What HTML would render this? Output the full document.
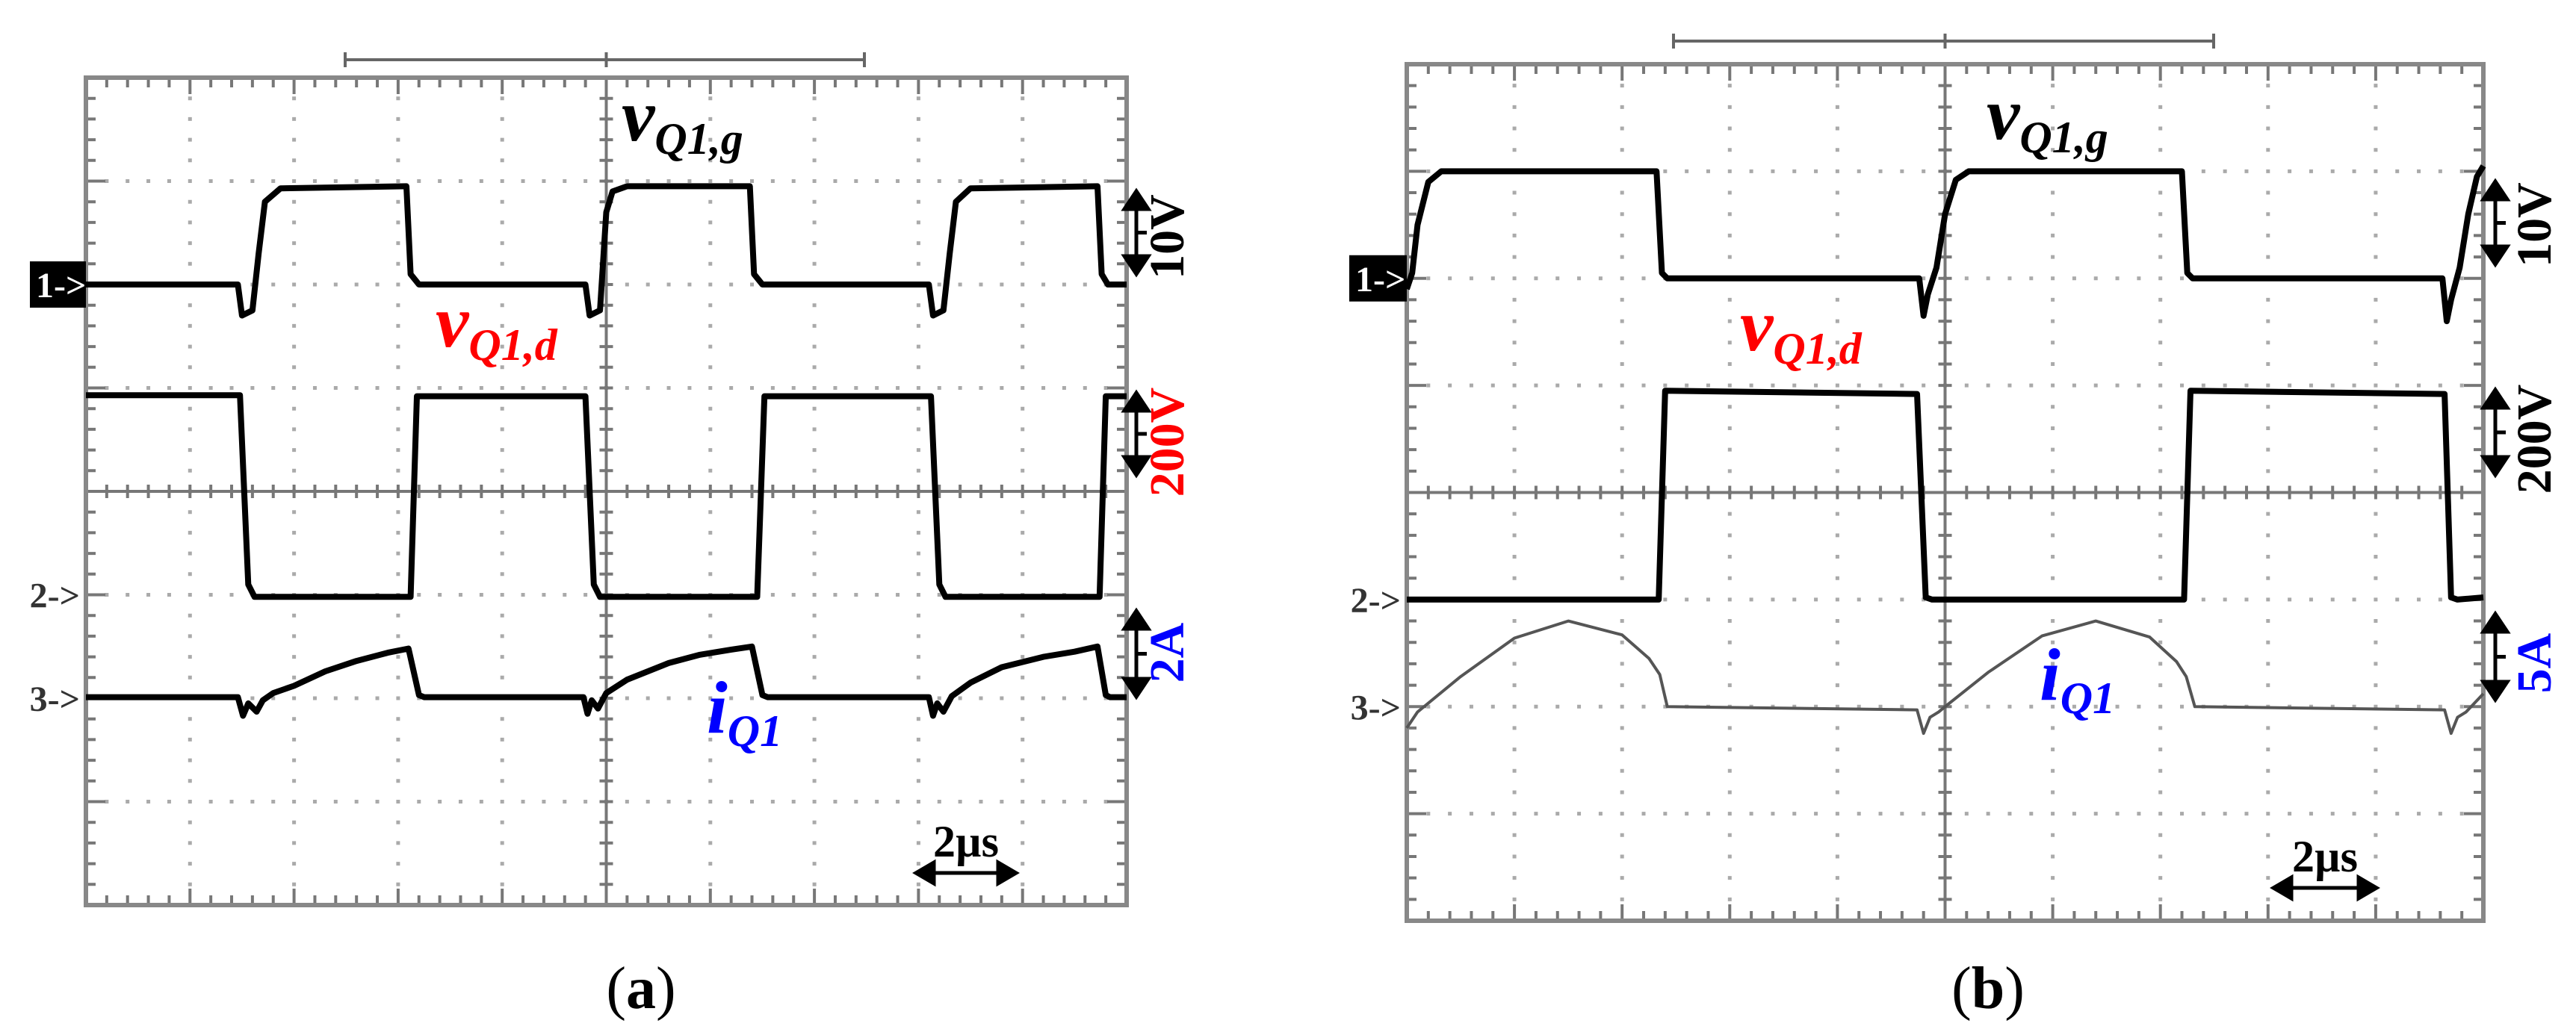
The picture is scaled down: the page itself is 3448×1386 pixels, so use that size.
<!DOCTYPE html>
<html><head><meta charset="utf-8">
<style>
html,body{margin:0;padding:0;background:#fff;}
svg{display:block;}
text{font-family:"Liberation Serif",serif;font-weight:bold;}
</style></head>
<body>
<svg id="fig" width="3448" height="1386" viewBox="0 0 3448 1386" xmlns="http://www.w3.org/2000/svg">
<g id="panelA"></g>
<g id="panelB"></g>
</svg>
<script>
// ---- Panel (a) data: time in divisions (0..10), level in divisions from top (0..8)
const gateA_t = [0,1.46,1.5,1.6,1.66,1.72,1.87,3.08,3.12,3.2,4.8,4.84,4.94,5.0,5.06,5.2,6.38,6.42,6.5,8.1,8.14,8.24,8.3,8.36,8.5,9.72,9.76,9.82,10];
const gateA_v = [2,2,2.3,2.25,1.7,1.2,1.07,1.05,1.9,2.0,2.0,2.3,2.25,1.3,1.1,1.05,1.05,1.9,2.0,2.0,2.3,2.25,1.7,1.2,1.07,1.05,1.9,2.0,2.0];
const drainA_t = [0,1.48,1.56,1.62,3.12,3.18,4.8,4.88,4.94,6.45,6.52,8.12,8.2,8.26,9.74,9.8,10];
const drainA_v = [3.07,3.07,4.9,5.02,5.02,3.08,3.08,4.9,5.02,5.02,3.08,3.08,4.9,5.02,5.02,3.08,3.08];
const curA_t = [0,1.46,1.51,1.56,1.64,1.7,1.8,2.0,2.3,2.6,2.9,3.1,3.2,3.25,4.78,4.82,4.86,4.92,5.0,5.2,5.6,5.9,6.2,6.4,6.5,6.55,8.1,8.14,8.18,8.24,8.32,8.5,8.8,9.2,9.5,9.72,9.8,9.84,10];
const curA_v = [5.99,5.99,6.17,6.05,6.13,6.02,5.95,5.88,5.74,5.64,5.56,5.52,5.97,5.99,5.99,6.15,6.02,6.1,5.95,5.82,5.66,5.58,5.53,5.5,5.97,5.99,5.99,6.17,6.05,6.13,5.98,5.85,5.7,5.6,5.55,5.5,5.97,5.99,5.99];
// ---- Panel (b) data
const gateB_t = [0,0.05,0.1,0.2,0.32,2.32,2.37,2.42,4.76,4.8,4.84,4.92,5.0,5.1,5.22,7.2,7.25,7.3,9.62,9.66,9.7,9.78,9.86,9.94,10];
const gateB_v = [2.1,1.95,1.5,1.1,1.0,1.0,1.95,2.0,2.0,2.35,2.15,1.9,1.4,1.08,1.0,1.0,1.95,2.0,2.0,2.4,2.2,1.9,1.4,1.05,0.95];
const drainB_t = [0,2.34,2.4,4.74,4.82,4.88,7.22,7.28,9.64,9.7,9.76,10];
const drainB_v = [5.0,5.0,3.05,3.08,4.98,5.0,5.0,3.05,3.08,4.98,5.0,4.98];
const curB_t = [0,0.1,0.5,1.0,1.5,2.0,2.25,2.35,2.42,4.74,4.8,4.86,4.94,5.0,5.4,5.9,6.4,6.9,7.15,7.24,7.32,9.64,9.7,9.76,9.84,10];
const curB_v = [6.2,6.05,5.72,5.36,5.2,5.33,5.55,5.7,6.0,6.03,6.25,6.1,6.05,6.0,5.68,5.34,5.2,5.35,5.58,5.72,6.0,6.03,6.25,6.1,6.05,5.88];

const NS = "http://www.w3.org/2000/svg";
function mk(tag, attrs, parent){
  const e = document.createElementNS(NS, tag);
  for (const k in attrs) e.setAttribute(k, attrs[k]);
  if (parent) parent.appendChild(e);
  return e;
}
function vArrow(g, x, a0, a1){
  const h = 24, w = 16;
  return mk('path', {d:`M${x},${a0+h}V${a1-h}M${x},${(a0+a1)/2}h14 M${x},${a0}L${x-w},${a0+h}L${x+w},${a0+h}Z M${x},${a1}L${x-w},${a1-h}L${x+w},${a1-h}Z`, stroke:'#000','stroke-width':5, fill:'#000'}, g);
}
function hArrow(g, y, a0, a1){
  const h = 24, w = 14;
  return mk('path', {d:`M${a0+h},${y}H${a1-h} M${a0},${y}L${a0+h},${y-w}L${a0+h},${y+w}Z M${a1},${y}L${a1-h},${y-w}L${a1-h},${y+w}Z`, stroke:'#000','stroke-width':5, fill:'#000'}, g);
}

function buildPanel(g, P){
  const xs = t => P.x0 + t*(P.x1-P.x0)/10;
  const ys = v => P.y0 + v*(P.y1-P.y0)/8;
  const grid = mk('g', {}, g);
  
  
  let dots = '';
  for (let i=1;i<10;i++){ if(i===5) continue;
    for (let k=1;k<40;k++){ dots += `M${xs(i)-2.5},${ys(k*0.2)}h5`; } }
  for (let j=1;j<8;j++){ if(j===4) continue;
    for (let k=1;k<50;k++){ dots += `M${xs(k*0.2)-2.5},${ys(j)}h5`; } }
  mk('path', {d:dots, stroke:'#aaa', 'stroke-width':5, fill:'none'}, grid);
  let tk = '';
  for (let k=1;k<50;k++){ const x=xs(k*0.2); const L=(k%5===0)?22:13;
    tk += `M${x},${P.y0}v${L}M${x},${P.y1}v${-L}M${x},${ys(4)-9}v18`; }
  for (let k=1;k<40;k++){ const y=ys(k*0.2); const L=(k%5===0)?26:13;
    tk += `M${P.x0},${y}h${L}M${P.x1},${y}h${-L}M${xs(5)-9},${y}h18`; }
  tk += `M${P.x0},${ys(4)}H${P.x1}M${xs(5)},${P.y0}V${P.y1}`;
  mk('path', {d:tk, stroke:'#777', 'stroke-width':4, fill:'none'}, grid);
  const border = mk('rect', {x:P.x0, y:P.y0, width:P.x1-P.x0, height:P.y1-P.y0, fill:'none', stroke:'#888', 'stroke-width':6}, g);
  
  
  const br = mk('path', {d:`M${P.bx0},${P.by}H${P.bx1}M${P.bx0},${P.by-10}v20M${P.bx1},${P.by-10}v20M${(P.x0+P.x1)/2},${P.by-10}v20`, stroke:'#666','stroke-width':4, fill:'none'}, g);
  
  
  P.traces.forEach(tr => {
    let d = '';
    tr.t.forEach((t,i)=>{ d += (i?'L':'M') + xs(t).toFixed(1) + ',' + ys(tr.v[i]).toFixed(1); });
    const p = mk('path', {d:d, stroke:tr.color, 'stroke-width':tr.w, fill:'none', 'stroke-linejoin':'round'}, g);
    
    
  });
  const m1 = mk('rect', {x:P.boxX, y:ys(2)-31, width:P.x0-P.boxX, height:62, fill:'#000'}, g);
  
  
  const t1 = mk('text', {x:P.boxX+8, y:ys(2)+17, fill:'#fff', 'font-size':48, 'font-family':'Liberation Sans, sans-serif'}, g);
  t1.textContent = '1->';
  
  
  [['2->',5,'ch2-marker'],['3->',6,'ch3-marker']].forEach(m=>{
    const t = mk('text', {x:P.x0-8, y:ys(m[1])+17, fill:'#333', 'font-size':48, 'text-anchor':'end', 'font-family':'Liberation Sans, sans-serif'}, g);
    t.textContent = m[0];
    
    
  });
  P.scales.forEach(s=>{
    const a = vArrow(g, P.ax, s.a0, s.a1);
    
    
    const cy = (s.y0+s.y1)/2;
    const t = mk('text', {x:0, y:22, fill:s.color, 'font-size':66, 'text-anchor':'middle', transform:`translate(${P.lx},${cy}) rotate(-90)`}, g);
    t.textContent = s.label;
    
    
  });
  P.labels.forEach(l=>{
    const t = mk('text', {x:l.x, y:l.y, fill:l.color, 'font-style':'italic', 'font-size':100}, g);
    
    
    const m = mk('tspan', {}, t); m.textContent = l.main;
    const s = mk('tspan', {'font-size':60, dy:18}, t); s.textContent = l.sub;
  });
  const ta = hArrow(g, P.ts.y, P.ts.x0, P.ts.x1);
  
  
  const tt = mk('text', {x:(P.ts.x0+P.ts.x1)/2, y:P.ts.y-22, 'font-size':60, 'text-anchor':'middle', fill:'#000'}, g);
  tt.textContent = '2µs';
  
  
  const cap = mk('text', {x:P.capX, y:1350, 'font-size':80, 'text-anchor':'middle', fill:'#000'}, g);
  
  
  mk('tspan', {'font-weight':'normal'}, cap).textContent = '(';
  mk('tspan', {'font-weight':'bold'}, cap).textContent = P.cap;
  mk('tspan', {'font-weight':'normal'}, cap).textContent = ')';
}

buildPanel(document.getElementById('panelA'), {
  x0:115, x1:1508, y0:104, y1:1212, bx0:462, bx1:1157, by:80, boxX:40, ax:1521, lx:1562, capX:858, cap:'a',
  traces:[
    {t:gateA_t, v:gateA_v, color:'#000', w:8, name:'gate-voltage-trace'},
    {t:drainA_t, v:drainA_v, color:'#000', w:8, name:'drain-voltage-trace'},
    {t:curA_t, v:curA_v, color:'#000', w:8, name:'current-trace'}],
  scales:[
    {a0:256,a1:367,y0:270,y1:364,label:'10V',color:'#000',name:'ch1-scale'},
    {a0:526,a1:636,y0:528,y1:656,label:'200V',color:'#f00',name:'ch2-scale'},
    {a0:818,a1:933,y0:834,y1:914,label:'2A',color:'#00f',name:'ch3-scale'}],
  labels:[
    {x:832,y:188,main:'v',sub:'Q1,g',color:'#000',name:'gate-voltage-label'},
    {x:583,y:464,main:'v',sub:'Q1,d',color:'#f00',name:'drain-voltage-label'},
    {x:946,y:981,main:'i',sub:'Q1',color:'#00f',name:'current-label'}],
  ts:{x0:1226,x1:1360,y:1169}
});
buildPanel(document.getElementById('panelB'), {
  x0:1883, x1:3324, y0:86, y1:1233, bx0:2240, bx1:2963, by:55, boxX:1806, ax:3340, lx:3392, capX:2661, cap:'b',
  traces:[
    {t:gateB_t, v:gateB_v, color:'#000', w:8, name:'gate-voltage-trace'},
    {t:drainB_t, v:drainB_v, color:'#000', w:8, name:'drain-voltage-trace'},
    {t:curB_t, v:curB_v, color:'#555', w:4, name:'current-trace'}],
  scales:[
    {a0:243,a1:354,y0:252,y1:350,label:'10V',color:'#000',name:'ch1-scale'},
    {a0:522,a1:636,y0:520,y1:656,label:'200V',color:'#000',name:'ch2-scale'},
    {a0:822,a1:937,y0:848,y1:928,label:'5A',color:'#00f',name:'ch3-scale'}],
  labels:[
    {x:2659,y:186,main:'v',sub:'Q1,g',color:'#000',name:'gate-voltage-label'},
    {x:2329,y:469,main:'v',sub:'Q1,d',color:'#f00',name:'drain-voltage-label'},
    {x:2730,y:937,main:'i',sub:'Q1',color:'#00f',name:'current-label'}],
  ts:{x0:3043,x1:3181,y:1189}
});
</script>
</body></html>
